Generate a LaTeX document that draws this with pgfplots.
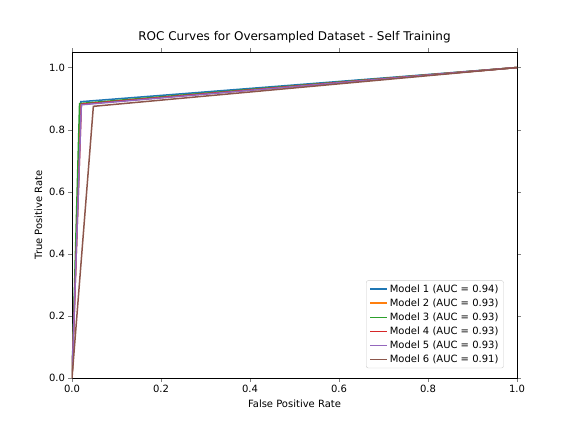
\documentclass[border=0pt]{standalone}
\usepackage{pgfplots}
\pgfplotsset{compat=1.18}
\usepackage{fontspec}
\setmainfont{DejaVu Sans}
\definecolor{c1}{HTML}{1F77B4}\definecolor{c2}{HTML}{FF7F0E}\definecolor{c3}{HTML}{2CA02C}
\definecolor{c4}{HTML}{D62728}\definecolor{c5}{HTML}{9467BD}\definecolor{c6}{HTML}{8C564B}
\begin{document}
\begin{tikzpicture}
\begin{axis}[at={(0,0)},anchor=south west,scale only axis,width=445bp,height=326bp,
xmin=0,xmax=1,ymin=0,ymax=1.05,
xtick={0,0.2,...,1},ytick={0,0.2,...,1},
xticklabel style={/pgf/number format/fixed,/pgf/number format/precision=1,/pgf/number format/fixed zerofill},
yticklabel style={/pgf/number format/fixed,/pgf/number format/precision=1,/pgf/number format/fixed zerofill},
/pgf/number format/assume math mode=true,
tick label style={font=\fontsize{10bp}{12bp}\selectfont},
label style={font=\fontsize{10bp}{12bp}\selectfont},
title style={font=\fontsize{12bp}{14bp}\selectfont},
title={ROC Curves for Oversampled Dataset - Self Training},
xlabel={False Positive Rate},ylabel={True Positive Rate},
tick align=outside,major tick length=3.5bp,
legend pos=south east,
legend style={font=\fontsize{10bp}{12bp}\selectfont,draw=black!20,rounded corners=2pt,row sep=1pt},
legend cell align=left,
every axis plot/.append style={line width=1.5bp},
]
\addplot[c1] coordinates {(0,0) (0.02,0.89) (1,1)};
\addlegendentry{Model 1 (AUC = 0.94)}
\addplot[c2] coordinates {(0,0) (0.02,0.882) (1,1)};
\addlegendentry{Model 2 (AUC = 0.93)}
\addplot[c3] coordinates {(0,0) (0.017,0.884) (1,1)};
\addlegendentry{Model 3 (AUC = 0.93)}
\addplot[c4] coordinates {(0,0) (0.021,0.882) (1,1)};
\addlegendentry{Model 4 (AUC = 0.93)}
\addplot[c5] coordinates {(0,0) (0.021,0.88) (1,1)};
\addlegendentry{Model 5 (AUC = 0.93)}
\addplot[c6] coordinates {(0,0) (0.048,0.875) (1,1)};
\addlegendentry{Model 6 (AUC = 0.91)}
\end{axis}
\path[use as bounding box] (-72bp,-54bp) rectangle (504bp,378bp);
\end{tikzpicture}
\end{document}
